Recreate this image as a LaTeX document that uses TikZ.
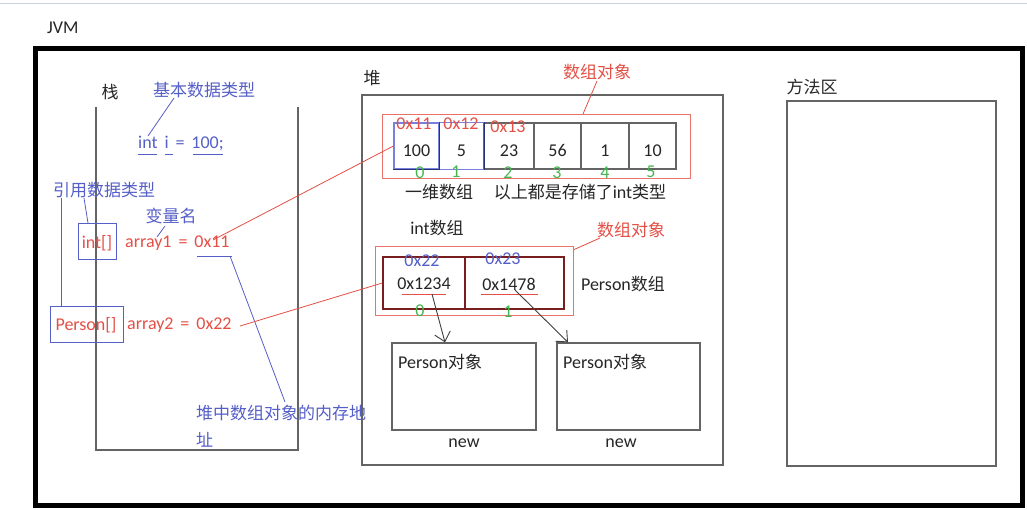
\documentclass[tikz,border=0pt]{standalone}
\usepackage{fontspec}
\setmainfont{Carlito}[WordSpace=1.7]
\newfontfamily\cjk{Noto Sans CJK SC}
\usetikzlibrary{arrows.meta}
\definecolor{myblue}{RGB}{85,95,200}
\definecolor{myred}{RGB}{228,80,70}
\definecolor{mygreen}{RGB}{70,180,80}
\definecolor{boxgray}{RGB}{100,100,100}
\definecolor{darkred}{RGB}{120,30,30}
\definecolor{lightblue}{RGB}{120,130,220}
\definecolor{navy}{RGB}{40,50,120}
\definecolor{topline}{RGB}{200,208,225}
\newcommand{\low}[1]{\raisebox{-10pt}[0pt][0pt]{#1}}
\tikzset{
  txt/.style={inner sep=0pt, text=black!85, font=\fontsize{18}{21}\selectfont},
  bluet/.style={txt, text=myblue},
  redt/.style={txt, text=myred},
  greent/.style={txt, text=mygreen},
  box/.style={draw=boxgray, line width=1.3pt},
  cellbox/.style={draw=boxgray, line width=1.2pt, minimum height=46pt, inner sep=0pt, text=black!85, font=\fontsize{18}{21}\selectfont},
  pcell/.style={draw=darkred, line width=1.5pt, minimum height=52pt, inner sep=0pt},
  blueline/.style={draw=myblue, line width=0.8pt},
  redline/.style={draw=myred, line width=0.8pt},
  redbox/.style={draw=myred!80, line width=1pt},
  ptr/.style={draw=black!75, line width=0.9pt, -{Straight Barb[length=9pt,width=16pt]}}
}
\begin{document}
\begin{tikzpicture}[x=1pt,y=-1pt]
\useasboundingbox (0,0) rectangle (1027,509);
\fill[white] (0,0) rectangle (1027,509);
\draw[topline, line width=1pt] (0,3) -- (1027,3);
% JVM frame
\node[txt, anchor=west] (jvm) at (47,28) {JVM};
\draw[line width=5pt] (35.5,48.5) rectangle (1022.5,505);

% ---------- stack ----------
\node[txt] (zhan) at (110,92) {\cjk\fontsize{17}{20}\selectfont 栈};
\draw[box] (96,107) -- (96,450) -- (298,450) -- (298,107);

\node[bluet] (basic) at (204,90) {\cjk\fontsize{17}{20}\selectfont 基本数据类型};
\node[bluet, anchor=west] (inti) at (138,143) {int i = 100;};
\draw[blueline] (138,154) -- (157,154) (165,154) -- (173,154) (193,154) -- (223,154);
\coordinate (b1) at (174,98);
\coordinate (b2) at (148,136);
\draw[blueline] (b1) -- (b2);

\node[bluet] (ref) at (104,190) {\cjk\fontsize{17}{20}\selectfont 引用数据类型};
\node[draw=myblue, line width=1pt, minimum width=38pt, minimum height=36pt, inner sep=0pt] (intbox) at (97,241) {};
\node[redt] (intarr) at (97,243) {int[]};
\node[draw=myblue, line width=1pt, minimum width=73pt, minimum height=36pt, inner sep=0pt] (perbox) at (86.5,324) {};
\node[redt] (perarr) at (86,325) {Person[]};
\coordinate (r1) at (61,198);
\coordinate (r2) at (84,198);
\draw[blueline] (r1) -- (perbox.north -| r1);
\draw[blueline] (r2) -- (88,223);

\node[bluet] (varname) at (171,216) {\cjk\fontsize{17}{20}\selectfont 变量名};
\coordinate (v1) at (165,226);
\coordinate (v2) at (157,237);
\draw[blueline] (v1) -- (v2);

\node[redt, anchor=west] (a1) at (125,243) {array1 = 0x11};
\node[redt, anchor=west] (a2) at (127,325) {array2 = 0x22};

\draw[blueline] (197,256) -- (232,256);
\coordinate (u1) at (230,256);
\coordinate (u2) at (285,402);
\draw[blueline] (u1) -- (u2);
\node[bluet, anchor=west] (addr) at (196,413) {\cjk\fontsize{17}{20}\selectfont 堆中数组对象的内存地};
\node[bluet, anchor=west] (addr2) at (196,440) {\cjk\fontsize{17}{20}\selectfont 址};

% ---------- heap ----------
\node[txt] (dui) at (372,78) {\cjk\fontsize{17}{20}\selectfont 堆};
\draw[box] (362,95) rectangle (723,465);

\node[redt] (obj1) at (597,72) {\cjk\fontsize{17}{20}\selectfont 数组对象};
\coordinate (o1) at (597,81);
\coordinate (o2) at (583,114);
\draw[redline] (o1) -- (o2);
\draw[redbox] (382,114) rectangle (690,178);

\node[cellbox, minimum width=50pt] (c2) at (509,146) {\low{23}};
\node[cellbox, minimum width=47pt] (c3) at (557.5,146) {\low{56}};
\node[cellbox, minimum width=48pt] (c4) at (605,146) {\low{1}};
\node[cellbox, minimum width=47pt] (c5) at (652.5,146) {\low{10}};
\node[cellbox, draw=none, minimum width=45pt] (c1) at (461.5,146) {\low{5}};
\node[cellbox, draw=lightblue, minimum width=45pt] (c0) at (416.5,146) {\low{100}};
\draw[draw=lightblue, line width=1.2pt] (c1.north west) -- (c1.north east);
\draw[draw=lightblue, line width=1.2pt] (c1.south west) -- (c1.south east);
\draw[draw=navy, line width=1.3pt] (c0.north east) -- (c0.south east) -- (c0.south west);
\draw[draw=navy, line width=1.3pt] (c1.north east) -- (c1.south east);

\node[redt] (h11) at (414,124) {0x11};
\node[redt] (h12) at (461,124) {0x12};
\node[redt] (h13) at (508,127) {0x13};

\node[greent] (i0) at (420,173) {0};
\node[greent] (i1) at (456,172) {1};
\node[greent] (i2) at (508,173) {2};
\node[greent] (i3) at (557,173) {3};
\node[greent] (i4) at (605,173) {4};
\node[greent] (i5) at (651,172) {5};

\node[txt] (yiwei) at (439,192) {\cjk\fontsize{17}{20}\selectfont 一维数组};
\node[txt] (yishang) at (580,192) {{\cjk\fontsize{17}{20}\selectfont 以上都是存储了}int{\cjk\fontsize{17}{20}\selectfont 类型}};
\node[txt] (intshu) at (437,228) {int{\cjk\fontsize{17}{20}\selectfont 数组}};

\node[redt] (obj2) at (631,230) {\cjk\fontsize{17}{20}\selectfont 数组对象};
\coordinate (o3) at (600,238);
\coordinate (o4) at (573,250);
\draw[redline] (o3) -- (o4);
\draw[redbox] (375,246) rectangle (573,315);

\node[pcell, minimum width=82pt] (p0) at (424,283) {};
\node[pcell, minimum width=99pt] (p1) at (514.5,283) {};
\node[bluet] (h22) at (422,261) {0x22};
\node[bluet] (h23) at (503,259) {0x23};
\node[txt] (v1234) at (424,284) {0x1234};
\node[txt] (v1478) at (509,284) {0x1478};
\draw[redline] (402,294) -- (446,294) (481,294) -- (538,294);
\node[txt] (perarrlbl) at (623,284) {Person{\cjk\fontsize{17}{20}\selectfont 数组}};
\node[greent] (j0) at (420,311) {0};
\node[greent] (j1) at (508,312) {1};

\draw[redline] (213,240) -- (c0.west);
\draw[redline] (240,326) -- (p0.west);

\node[box, minimum width=144pt, minimum height=87pt, inner sep=0pt] (pob1) at (464,386.5) {};
\node[box, minimum width=143pt, minimum height=87pt, inner sep=0pt] (pob2) at (628.5,386.5) {};
\node[txt, anchor=west] (pt1) at (398,362) {Person{\cjk\fontsize{17}{20}\selectfont 对象}};
\node[txt, anchor=west] (pt2) at (563,362) {Person{\cjk\fontsize{17}{20}\selectfont 对象}};
\node[txt] (new1) at (464,443) {new};
\node[txt] (new2) at (621,443) {new};

\coordinate (s1) at (432,294);
\coordinate (s2) at (515,290);
\draw[ptr] (s1) -- (pob1.north -| 445,0);
\draw[ptr] (s2) -- (pob2.north -| 568,0);

% ---------- method area ----------
\node[txt] (fangfa) at (812,87) {\cjk\fontsize{17}{20}\selectfont 方法区};
\draw[box] (787,101) rectangle (996,466);
\end{tikzpicture}
\end{document}
